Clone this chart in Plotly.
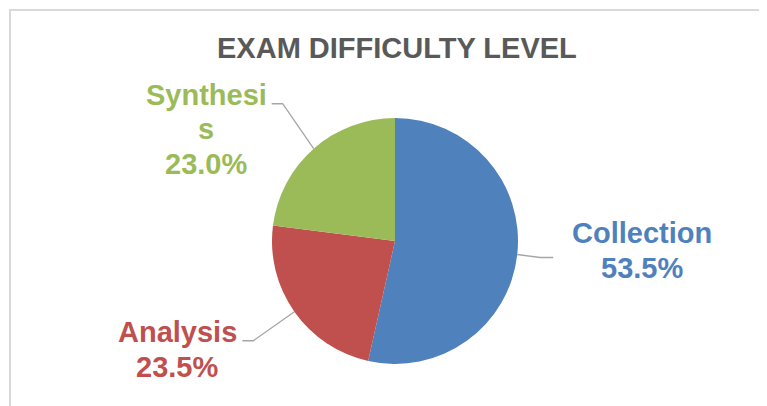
import math
import plotly.graph_objects as go

# ---- data ----
categories = ["Collection", "Analysis", "Synthesis"]
label_lines = [["Collection"], ["Analysis"], ["Synthesi", "s"]]
values = [53.5, 23.5, 23.0]
colors = ["#4F81BD", "#C0504D", "#9BBB59"]
title_text = "EXAM DIFFICULTY LEVEL"

W, H = 767, 406
OFF = 8  # page body margin offset
CX, CY, R = 395, 241, 123

def px(x):
    return (x - OFF) / W

def py(y):
    return 1 - (y - OFF) / H

fig = go.Figure()
fig.add_trace(go.Pie(
    labels=categories, values=values, sort=False, direction="clockwise",
    rotation=0, textinfo="none", hoverinfo="label+percent",
    marker=dict(colors=colors, line=dict(width=0)),
    domain=dict(x=[px(CX - R), px(CX + R)], y=[py(CY + R), py(CY - R)]),
    showlegend=False,
))

label_style = [
    dict(tx=642, ty=233),
    dict(tx=177, ty=332),
    dict(tx=206, ty=95),
]
LINE_H = 34.5
FONT = "Liberation Sans, Arial, sans-serif"
FS = 29

total = sum(values)
cum = 0
shapes = []
annotations = []
for i, v in enumerate(values):
    mid = (cum + v / 2) / total * 2 * math.pi
    cum += v
    ex = CX + R * math.sin(mid)
    ey = CY - R * math.cos(mid)
    st = label_style[i]
    lines = label_lines[i] + [f"{v / total * 100:.1f}%"]
    for j, ln in enumerate(lines):
        annotations.append(dict(
            x=px(st["tx"]), y=py(st["ty"] + j * LINE_H), xref="paper", yref="paper",
            text=f"<b>{ln}</b>", showarrow=False, xanchor="center", yanchor="middle",
            font=dict(family=FONT, size=FS, color=colors[i]),
        ))
    if i == 0:
        elbow = (ex + 23, ey + 3)
        end = (elbow[0] + 13, elbow[1])
    elif i == 1:
        elbow = (ex - 41, ey + 29)
        end = (elbow[0] - 11, elbow[1])
    else:
        elbow = (ex - 31, ey - 45)
        end = (elbow[0] - 11, elbow[1])
    path = f"M {px(ex)},{py(ey)} L {px(elbow[0])},{py(elbow[1])} L {px(end[0])},{py(end[1])}"
    shapes.append(dict(type="path", path=path, xref="paper", yref="paper",
                       line=dict(color="#A6A6A6", width=1.3)))

# chart-area border (top and left visible)
shapes.append(dict(type="line", xref="paper", yref="paper", x0=px(9), x1=px(790), y0=py(10), y1=py(10),
                   line=dict(color="#D9D9D9", width=2)))
shapes.append(dict(type="line", xref="paper", yref="paper", x0=px(10), x1=px(10), y0=py(9), y1=py(420),
                   line=dict(color="#D9D9D9", width=2)))

annotations.append(dict(
    x=px(397), y=py(48), xref="paper", yref="paper", text=f"<b>{title_text}</b>",
    showarrow=False, xanchor="center", yanchor="middle",
    font=dict(family=FONT, size=FS, color="#595959"),
))

fig.update_layout(
    width=W, height=H, margin=dict(l=0, r=0, t=0, b=0),
    paper_bgcolor="white", plot_bgcolor="white",
    shapes=shapes, annotations=annotations,
)
fig.write_html("out.html")
